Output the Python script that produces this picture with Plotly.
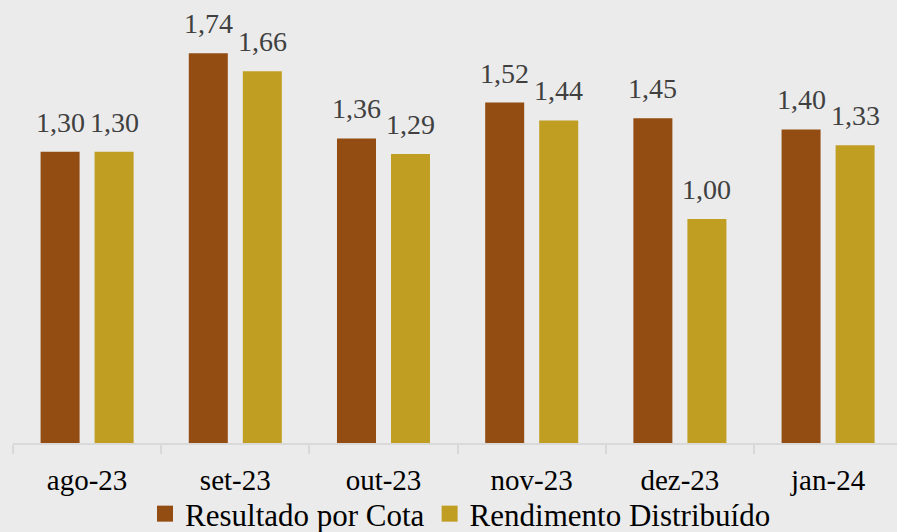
import plotly.graph_objects as go

categories = ["ago-23", "set-23", "out-23", "nov-23", "dez-23", "jan-24"]
resultado = [1.30, 1.74, 1.36, 1.52, 1.45, 1.40]
rendimento = [1.30, 1.66, 1.29, 1.44, 1.00, 1.33]
series_names = ["Resultado por Cota", "Rendimento Distribuído"]
colors = ["#934C12", "#C09E22"]

FONT = "'Liberation Serif', 'DejaVu Serif', serif"

fig = go.Figure()
for name, vals, col in zip(series_names, [resultado, rendimento], colors):
    fig.add_trace(go.Bar(
        x=categories, y=vals, name=name, marker_color=col,
        marker_line_width=0, showlegend=False,
    ))
    # legend proxy with larger square symbol
    fig.add_trace(go.Scatter(
        x=[None], y=[None], mode="markers", name=name,
        marker=dict(symbol="square", size=16, color=col),
        showlegend=True,
    ))

offsets = [-27, 27]
for vals, dx in zip([resultado, rendimento], offsets):
    for c, v in zip(categories, vals):
        fig.add_annotation(
            x=c, y=v, xref="x", yref="y", text=f"{v:.2f}".replace(".", ","),
            showarrow=False, yanchor="bottom", xanchor="center", xshift=dx, yshift=12,
            font=dict(family=FONT, size=28, color="#404040"),
        )

fig.update_layout(
    width=897, height=532,
    margin=dict(l=13, r=0, t=0, b=89, autoexpand=False),
    paper_bgcolor="#EBEBEB", plot_bgcolor="#EBEBEB",
    barmode="group", bargap=0.271, bargroupgap=0.278,
    font=dict(family=FONT, size=28, color="#000000"),
    legend=dict(orientation="h", x=0.5134, xanchor="center", xref="container",
                y=1 - 514 / 532, yanchor="middle", yref="container",
                font=dict(family=FONT, size=31, color="#000000"),
                itemwidth=30, tracegroupgap=0, bgcolor="rgba(0,0,0,0)"),
    showlegend=True,
)
fig.update_xaxes(
    range=[-0.5, 5.465], showline=True, linecolor="#D9D9D9", linewidth=2,
    ticks="outside", tickson="boundaries", ticklen=9, tickcolor="#D9D9D9", tickwidth=2,
    showgrid=False, zeroline=False, automargin=False, ticklabelstandoff=10,
    tickfont=dict(family=FONT, size=29, color="#000000"),
)
fig.update_yaxes(range=[0, 1.978], visible=False, showgrid=False, zeroline=False)

fig.write_html("out.html", config={"displayModeBar": False},
               post_script="document.body.style.margin='0';document.body.style.background='#EBEBEB';")
